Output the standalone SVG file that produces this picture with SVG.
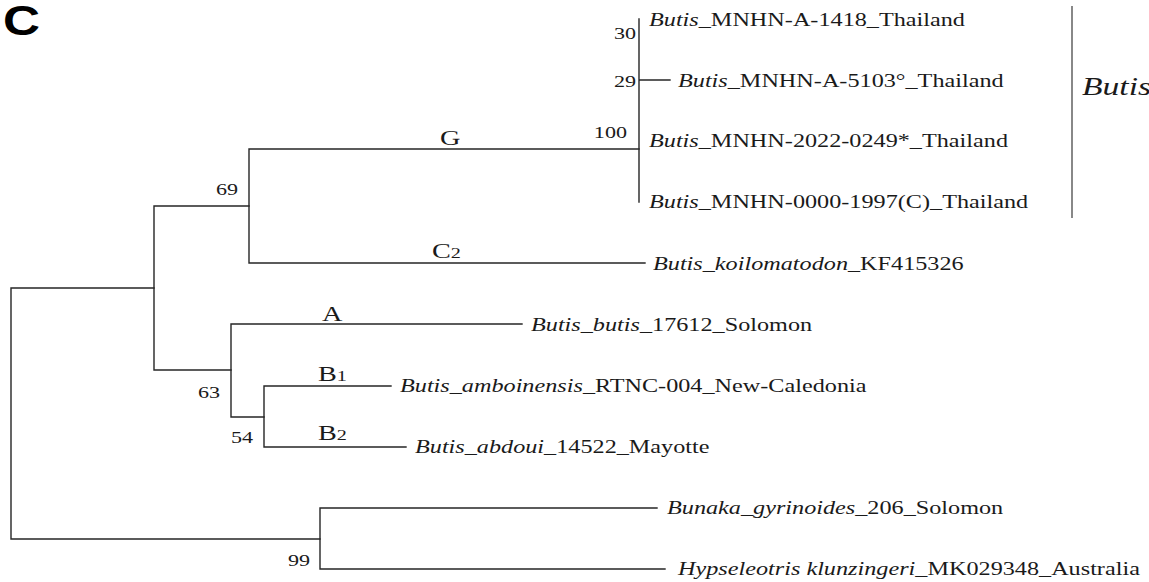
<svg xmlns="http://www.w3.org/2000/svg" width="1149" height="582" viewBox="0 0 1149 582">
<style>
.t{font-family:"Liberation Serif","Times New Roman",serif;font-size:18px;fill:#1a1a1a}
.i{font-style:italic}
.bs{font-family:"Liberation Serif","Times New Roman",serif;font-size:17px;fill:#1a1a1a;text-anchor:end}
.cl{font-family:"Liberation Serif","Times New Roman",serif;font-size:21px;fill:#1a1a1a}
.sub{font-size:15px}
.br{fill:none;stroke:#262626;stroke-width:1.4;stroke-linecap:square}
</style>
<rect width="1149" height="582" fill="#fff"/>
<g id="panel-label"><text x="0" y="0" transform="translate(3,35) scale(1.22,1)" style="font-family:'Liberation Sans',Arial,sans-serif;font-weight:bold;font-size:42px;fill:#000">C</text></g>
<g id="connectors" class="br">
<path d="M11,288V539M11,288H154M11,539H320"/>
<path d="M154,206V370M154,206H249M154,370H231"/>
<path d="M249,149V263M249,149H639M249,263H645"/>
<path d="M639,19V202M639,80H670"/>
<path d="M231,324V417M231,324H522M231,417H264"/>
<path d="M264,386V447M264,386H391M264,447H406"/>
<path d="M320,508V569M320,508H657M320,569H665"/>
</g>
<g id="clade-bar"><line x1="1072" y1="6" x2="1072" y2="218" stroke="#888" stroke-width="2"/>
<text class="t i" transform="translate(1082,95) scale(1.345,1)" style="font-size:25px">Butis</text></g>
<g id="tip-1418"><text class="t" transform="translate(649,26) scale(1.345,1)"><tspan class="i">Butis</tspan>_MNHN-A-1418_Thailand</text></g>
<g id="tip-5103"><text class="t" transform="translate(678,87) scale(1.345,1)"><tspan class="i">Butis</tspan>_MNHN-A-5103°_Thailand</text></g>
<g id="tip-2022"><text class="t" transform="translate(649,147) scale(1.345,1)"><tspan class="i">Butis</tspan>_MNHN-2022-0249*_Thailand</text></g>
<g id="tip-0000"><text class="t" transform="translate(649,208) scale(1.345,1)"><tspan class="i">Butis</tspan>_MNHN-0000-1997(C)_Thailand</text></g>
<g id="tip-koilomatodon"><text class="t" transform="translate(653,270) scale(1.345,1)"><tspan class="i">Butis_koilomatodon</tspan>_KF415326</text></g>
<g id="tip-butis"><text class="t" transform="translate(531,331) scale(1.345,1)"><tspan class="i">Butis_butis</tspan>_17612_Solomon</text></g>
<g id="tip-amboinensis"><text class="t" transform="translate(400,392) scale(1.345,1)"><tspan class="i">Butis_amboinensis</tspan>_RTNC-004_New-Caledonia</text></g>
<g id="tip-abdoui"><text class="t" transform="translate(415,453) scale(1.345,1)"><tspan class="i">Butis_abdoui</tspan>_14522_Mayotte</text></g>
<g id="tip-bunaka"><text class="t" transform="translate(667,514) scale(1.345,1)"><tspan class="i">Bunaka_gyrinoides</tspan>_206_Solomon</text></g>
<g id="tip-hypseleotris"><text class="t" transform="translate(678,575) scale(1.345,1)"><tspan class="i">Hypseleotris klunzingeri</tspan>_MK029348_Australia</text></g>
<g id="support">
<text class="bs" transform="translate(636,39) scale(1.3,1)">30</text>
<text class="bs" transform="translate(636,87) scale(1.3,1)">29</text>
<text class="bs" transform="translate(627,138) scale(1.3,1)">100</text>
<text class="bs" transform="translate(238,195) scale(1.3,1)">69</text>
<text class="bs" transform="translate(220,398) scale(1.3,1)">63</text>
<text class="bs" transform="translate(253,443) scale(1.3,1)">54</text>
<text class="bs" transform="translate(310,566) scale(1.3,1)">99</text>
</g>
<g id="clade-labels">
<text class="cl" transform="translate(440,145) scale(1.345,1)">G</text>
<text class="cl" transform="translate(432,258) scale(1.345,1)">C<tspan class="sub">2</tspan></text>
<text class="cl" transform="translate(322,321) scale(1.345,1)">A</text>
<text class="cl" transform="translate(318,381) scale(1.345,1)">B<tspan class="sub">1</tspan></text>
<text class="cl" transform="translate(318,440) scale(1.345,1)">B<tspan class="sub">2</tspan></text>
</g>
</svg>
